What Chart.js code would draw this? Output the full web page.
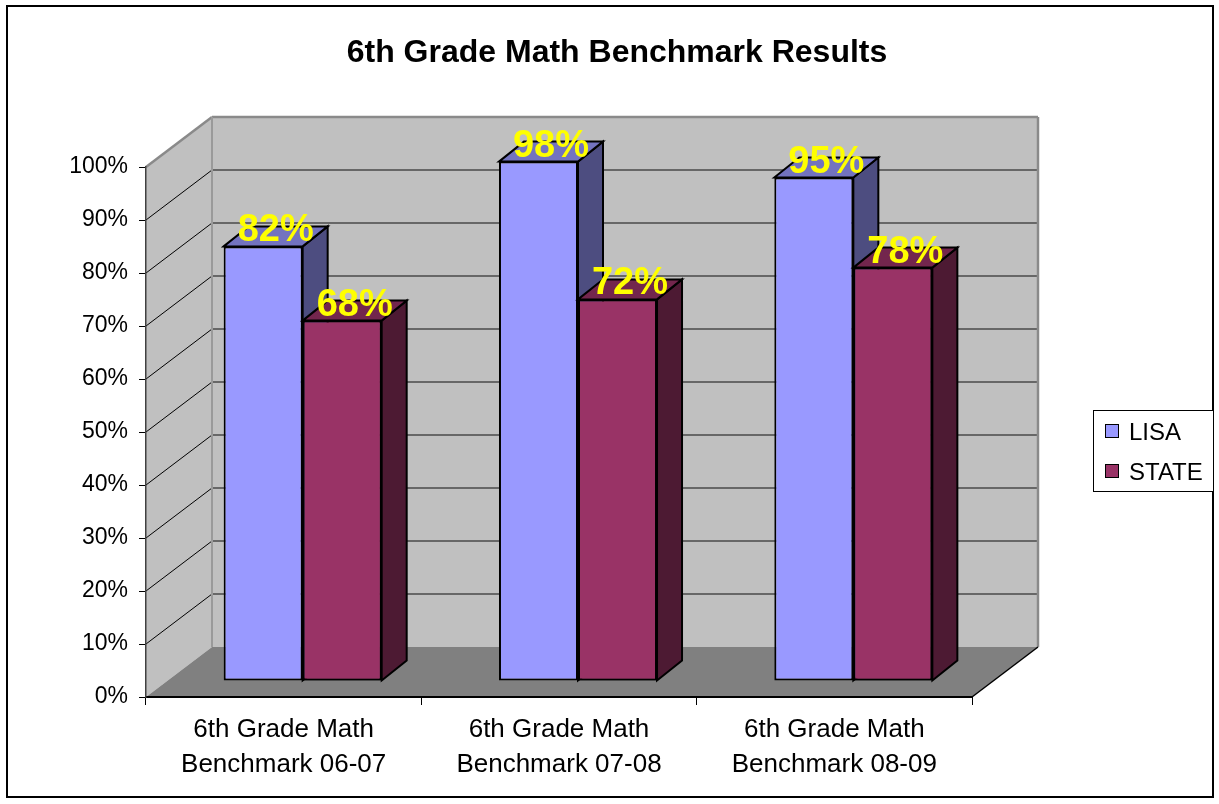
<!DOCTYPE html>
<html>
<head>
<meta charset="utf-8">
<title>6th Grade Math Benchmark Results</title>
<script src="https://cdn.jsdelivr.net/npm/chart.js@4.4.1/dist/chart.umd.min.js"></script>
<style>
  html, body { margin: 0; padding: 0; background: #ffffff; }
  canvas { display: block; }
</style>
</head>
<body>
<canvas id="chart" width="1219" height="804"></canvas>
<script>
// ---- data ----
const categories = [
  ["6th Grade Math", "Benchmark 06-07"],
  ["6th Grade Math", "Benchmark 07-08"],
  ["6th Grade Math", "Benchmark 08-09"]
];
const lisaValues = [82, 98, 95];
const stateValues = [68, 72, 78];
const seriesNames = ["LISA", "STATE"];
const chartTitle = "6th Grade Math Benchmark Results";
const yTickValues = [0, 10, 20, 30, 40, 50, 60, 70, 80, 90, 100];

// ---- styling ----
const FONT = '"Liberation Sans", Arial, Helvetica, sans-serif';
const WALL_DEPTH = { dx: 66, dy: -50 };   // offset from front plane to back wall
const BAR_SHIFT = { dx: 19, dy: -16 };    // bars sit midway into the floor
const BAR_DEPTH = { dx: 25, dy: -20 };    // thickness of each 3D column
const palette = [
  { front: '#9999FF', top: '#7373BF', side: '#4D4D80' },
  { front: '#993366', top: '#73264D', side: '#4D1A33' }
];

function poly(ctx, pts) {
  ctx.beginPath();
  ctx.moveTo(pts[0][0], pts[0][1]);
  for (let i = 1; i < pts.length; i++) ctx.lineTo(pts[i][0], pts[i][1]);
  ctx.closePath();
}

function line(ctx, x1, y1, x2, y2) {
  ctx.beginPath();
  ctx.moveTo(x1, y1);
  ctx.lineTo(x2, y2);
  ctx.stroke();
}

// Side and top faces of a column, from the bar element's own geometry
function drawColumnFaces(ctx, el, col) {
  const p = el.getProps(['x', 'y', 'base', 'width'], true);
  const l = p.x - p.width / 2, r = p.x + p.width / 2, t = p.y, b = p.base;
  const dx = BAR_DEPTH.dx, dy = BAR_DEPTH.dy;
  ctx.lineWidth = 2;
  ctx.strokeStyle = '#000';
  ctx.lineJoin = 'miter';
  poly(ctx, [[r, t], [r + dx, t + dy], [r + dx, b + dy], [r, b]]);
  ctx.fillStyle = col.side; ctx.fill(); ctx.stroke();
  poly(ctx, [[l, t], [l + dx, t + dy], [r + dx, t + dy], [r, t]]);
  ctx.fillStyle = col.top; ctx.fill(); ctx.stroke();
}

const scenePlugin = {
  id: 'scene3d',
  beforeDraw(chart) {
    const { ctx, chartArea: a, scales } = chart;
    const y = scales.y;
    const L = a.left, R = a.right, T = a.top, B = a.bottom;
    const dx = WALL_DEPTH.dx, dy = WALL_DEPTH.dy;
    ctx.save();

    // white page with frame
    ctx.fillStyle = '#ffffff';
    ctx.fillRect(0, 0, chart.width, chart.height);
    ctx.strokeStyle = '#000';
    ctx.lineWidth = 2;
    ctx.strokeRect(7, 6, 1206, 791);

    // title
    ctx.fillStyle = '#000';
    ctx.font = 'bold 32px ' + FONT;
    ctx.textAlign = 'center';
    ctx.textBaseline = 'alphabetic';
    ctx.fillText(chartTitle, 617, 62);

    // left wall
    ctx.fillStyle = '#C0C0C0';
    poly(ctx, [[L, B], [L + dx, B + dy], [L + dx, T + dy], [L, T]]);
    ctx.fill();
    // back wall
    ctx.fillRect(L + dx, T + dy, R - L, B - T);
    // floor
    ctx.fillStyle = '#808080';
    poly(ctx, [[L, B], [R, B], [R + dx, B + dy], [L + dx, B + dy]]);
    ctx.fill();

    // gridlines on both walls
    yTickValues.forEach(v => {
      if (v === 0 || v === 100) return;
      const py = y.getPixelForValue(v);
      ctx.strokeStyle = '#4a4a4a';
      ctx.lineWidth = 1.5;
      line(ctx, L + dx, py + dy, R + dx, py + dy);
      ctx.strokeStyle = '#000';
      ctx.lineWidth = 1;
      line(ctx, L, py, L + dx, py + dy);
    });

    // wall edges
    ctx.strokeStyle = '#8a8a8a';
    ctx.lineWidth = 2.5;
    line(ctx, L, T, L + dx, T + dy);
    line(ctx, L + dx, T + dy, R + dx, T + dy);
    line(ctx, R + dx, T + dy, R + dx, B + dy);
    ctx.strokeStyle = '#9a9a9a';
    ctx.lineWidth = 2;
    line(ctx, L + dx, T + dy, L + dx, B + dy);
    // floor right edge
    ctx.strokeStyle = '#000';
    ctx.lineWidth = 1.5;
    line(ctx, R, B, R + dx, B + dy);

    // legend
    ctx.fillStyle = '#fff';
    ctx.fillRect(1093, 410, 121, 82);
    ctx.strokeStyle = '#000';
    ctx.lineWidth = 1;
    ctx.strokeRect(1093.5, 410.5, 120, 81);
    ctx.font = '24px ' + FONT;
    ctx.textAlign = 'left';
    ctx.textBaseline = 'alphabetic';
    const legendRows = [440, 480];
    seriesNames.forEach((name, i) => {
      const by = legendRows[i];
      ctx.fillStyle = palette[i].front;
      ctx.fillRect(1105.5, by - 15.5, 13, 13);
      ctx.strokeStyle = '#000';
      ctx.strokeRect(1105.5, by - 15.5, 13, 13);
      ctx.fillStyle = '#000';
      ctx.fillText(name, 1129, by);
    });
    ctx.restore();
  },
  beforeDatasetsDraw(chart) {
    const ctx = chart.ctx;
    ctx.save();
    ctx.translate(BAR_SHIFT.dx, BAR_SHIFT.dy);
  },
  afterDatasetsDraw(chart) {
    const ctx = chart.ctx;
    const m0 = chart.getDatasetMeta(0);
    const m1 = chart.getDatasetMeta(1);
    // paint back-to-front so each column's side is hidden by its neighbour
    for (let i = 0; i < categories.length; i++) {
      drawColumnFaces(ctx, m0.data[i], palette[0]);
      m1.data[i].draw(ctx);
      drawColumnFaces(ctx, m1.data[i], palette[1]);
    }
    // value labels
    ctx.font = 'bold 38px ' + FONT;
    ctx.fillStyle = '#FFFF00';
    ctx.textAlign = 'center';
    ctx.textBaseline = 'alphabetic';
    [lisaValues, stateValues].forEach((vals, di) => {
      const meta = chart.getDatasetMeta(di);
      vals.forEach((v, i) => {
        const p = meta.data[i].getProps(['x', 'y'], true);
        ctx.fillText(v + '%', p.x + 12.5, p.y - 5);
      });
    });
    ctx.restore();
  }
};

new Chart(document.getElementById('chart'), {
  type: 'bar',
  data: {
    labels: categories,
    datasets: [
      {
        label: seriesNames[0], data: lisaValues,
        backgroundColor: palette[0].front, borderColor: '#000',
        borderWidth: 2, borderSkipped: false, clip: false
      },
      {
        label: seriesNames[1], data: stateValues,
        backgroundColor: palette[1].front, borderColor: '#000',
        borderWidth: 2, borderSkipped: false, clip: false
      }
    ]
  },
  options: {
    responsive: false,
    animation: false,
    devicePixelRatio: 1,
    layout: { padding: { left: 0, top: 167, right: 247, bottom: 0 } },
    datasets: { bar: { barPercentage: 1, categoryPercentage: 0.574 } },
    plugins: {
      legend: { display: false },
      title: { display: false },
      tooltip: { enabled: false }
    },
    scales: {
      x: {
        afterFit(s) { s.height = 107; },
        grid: { offset: true, drawOnChartArea: false, drawTicks: true, tickLength: 8, color: '#000', lineWidth: 1 },
        border: { display: true, color: '#000', width: 2 },
        ticks: { color: '#000', font: { family: FONT, size: 26, lineHeight: 1.33 }, padding: 8, maxRotation: 0, autoSkip: false }
      },
      y: {
        min: 0, max: 100,
        afterFit(s) { s.width = 146; },
        afterBuildTicks(s) { s.ticks = yTickValues.map(v => ({ value: v })); },
        grid: { drawOnChartArea: false, drawTicks: true, tickLength: 7, color: '#000', lineWidth: 1 },
        border: { display: true, color: '#404040', width: 1.5 },
        ticks: { color: '#000', font: { family: FONT, size: 23 }, padding: 11, callback: v => v + '%' }
      }
    }
  },
  plugins: [scenePlugin]
});
</script>
</body>
</html>
